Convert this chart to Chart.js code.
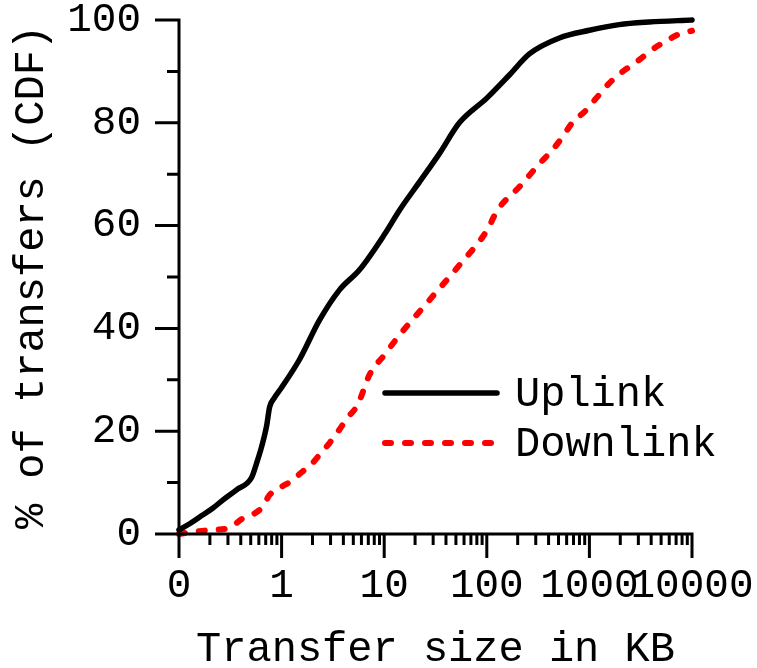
<!DOCTYPE html>
<html><head><meta charset="utf-8">
<script src="https://cdn.jsdelivr.net/npm/chart.js@4/dist/chart.umd.min.js"></script>
<style>html,body{margin:0;padding:0;background:#fff;}#wrap{width:757px;height:668px;}</style>
</head><body><div id="wrap"><canvas id="c" width="757" height="668"></canvas></div>
<script>
// ---- data ----
const seriesNames = ['Uplink', 'Downlink'];
const uplinkX = [0.1, 0.127, 0.159, 0.213, 0.267, 0.364, 0.51, 0.571, 0.639, 0.714, 0.764, 0.85, 1.0, 1.5, 2.34, 3.67, 5.75, 10, 14.1, 22.1, 34.5, 54, 100, 166, 260, 509, 1000, 1950, 3820, 10000];
const uplinkY = [0.8, 2, 3.3, 5, 6.6, 8.6, 11, 13.8, 17, 21, 24.7, 26.5, 28.5, 34, 41.6, 47.5, 51.4, 58.2, 63, 68.5, 74, 80, 84.8, 89.3, 93.4, 96.5, 98, 99.1, 99.6, 100];
const downlinkX = [0.1, 0.136, 0.213, 0.312, 0.408, 0.546, 0.653, 0.764, 1.02, 1.2, 1.57, 2.0, 2.34, 2.93, 3.51, 4.39, 5.5, 7.2, 10, 14.1, 27.6, 54, 100, 127, 207, 325, 435, 545, 681, 933, 1167, 1563, 2090, 2862, 3830, 5130, 8030, 10000];
const downlinkY = [0, 0.4, 0.8, 1.2, 2.9, 4, 5.3, 7.6, 9.3, 10.1, 12, 13.8, 15.4, 17.7, 19.8, 22.6, 25.1, 31, 34.8, 38.7, 45.5, 52.3, 59, 63, 67.5, 72, 74.7, 77.2, 80, 82.5, 84.8, 87.7, 89.9, 91.8, 93.8, 95.5, 97.5, 97.9];
const xMajorTicks = [0.1, 1, 10, 100, 1000, 10000];
const xTickLabels = ['0', '1', '10', '100', '1000', '10000'];
const yMajorTicks = [0, 20, 40, 60, 80, 100];
const yMinorTicks = [10, 30, 50, 70, 90];
const xTitle = 'Transfer size in KB';
const yTitle = '% of transfers (CDF)';

const FONT = "'Liberation Mono', 'Courier New', monospace";

function toPoints(xs, ys) { return xs.map((x, i) => ({ x: x, y: ys[i] })); }
function xMinorTicks() {
  const out = [];
  for (let d = 0; d < xMajorTicks.length - 1; d++) {
    for (let k = 2; k <= 9; k++) out.push(k * xMajorTicks[d]);
  }
  return out;
}

const axisPlugin = {
  id: 'axisPlugin',
  afterDraw(chart) {
    const ctx = chart.ctx, xs = chart.scales.x, ys = chart.scales.y;
    const L = chart.chartArea.left, B = chart.chartArea.bottom, T = chart.chartArea.top, R = chart.chartArea.right;
    ctx.save();
    ctx.strokeStyle = '#000';
    ctx.lineWidth = 3;
    ctx.lineCap = 'butt';
    ctx.beginPath();
    ctx.moveTo(L, T - 1.5); ctx.lineTo(L, B + 24);
    ctx.moveTo(L - 24, B); ctx.lineTo(R + 1.5, B);
    yMajorTicks.forEach(v => { const p = ys.getPixelForValue(v); ctx.moveTo(L - 24, p); ctx.lineTo(L, p); });
    yMinorTicks.forEach(v => { const p = ys.getPixelForValue(v); ctx.moveTo(L - 12, p); ctx.lineTo(L, p); });
    xMajorTicks.forEach(v => { const p = xs.getPixelForValue(v); ctx.moveTo(p, B); ctx.lineTo(p, B + 24); });
    xMinorTicks().forEach(v => { const p = xs.getPixelForValue(v); ctx.moveTo(p, B); ctx.lineTo(p, B + 11); });
    ctx.stroke();

    const rows = [{ y: 393 }, { y: 443 }];
    chart.data.datasets.forEach((ds, i) => {
      const y = rows[i].y;
      ctx.save();
      ctx.strokeStyle = ds.borderColor;
      ctx.lineWidth = ds.borderWidth;
      ctx.lineCap = ds.borderCapStyle || 'butt';
      ctx.setLineDash(ds.borderDash || []);
      ctx.beginPath();
      ctx.moveTo(385, y);
      ctx.lineTo(i === 0 ? 497 : 492, y);
      ctx.stroke();
      ctx.restore();
      ctx.fillStyle = '#000';
      ctx.font = '42px ' + FONT;
      ctx.textAlign = 'left';
      ctx.textBaseline = 'middle';
      ctx.fillText(ds.label, 515, y + 2);
    });
    ctx.restore();
  }
};

new Chart(document.getElementById('c'), {
  type: 'line',
  data: {
    datasets: [
      { label: seriesNames[0], data: toPoints(uplinkX, uplinkY), borderColor: '#000000', borderWidth: 5.5,
        borderCapStyle: 'round', borderJoinStyle: 'round', pointRadius: 0, cubicInterpolationMode: 'monotone', fill: false, clip: false },
      { label: seriesNames[1], data: toPoints(downlinkX, downlinkY), borderColor: '#ff0000', borderWidth: 6,
        borderDash: [6, 14], borderCapStyle: 'round', borderJoinStyle: 'round', pointRadius: 0, cubicInterpolationMode: 'monotone', fill: false, clip: false }
    ]
  },
  options: {
    responsive: false,
    animation: false,
    layout: { padding: { left: 0, top: 20, right: 65, bottom: 0 } },
    plugins: { legend: { display: false }, tooltip: { enabled: false } },
    scales: {
      x: {
        type: 'logarithmic', min: 0.1, max: 10000,
        border: { display: false },
        grid: { display: false, drawTicks: true, tickLength: 24 },
        afterBuildTicks: s => { s.ticks = xMajorTicks.map(v => ({ value: v })); },
        afterFit: s => { s.height = 134; s.paddingLeft = 0; s.paddingRight = 0; },
        ticks: {
          autoSkip: false, maxRotation: 0, minRotation: 0, padding: 4, color: '#000',
          font: { family: FONT, size: 41, lineHeight: 1.2 },
          callback: (v) => { const i = xMajorTicks.indexOf(v); return i >= 0 ? xTickLabels[i] : ''; }
        },
        title: { display: true, text: xTitle, color: '#000', font: { family: FONT, size: 42, lineHeight: 1 }, padding: { top: 0, bottom: -3 } }
      },
      y: {
        type: 'linear', min: 0, max: 100,
        border: { display: false },
        grid: { display: false, drawTicks: true, tickLength: 24 },
        afterBuildTicks: s => { s.ticks = yMajorTicks.map(v => ({ value: v })); },
        afterFit: s => { s.width = 179; s.paddingTop = 0; s.paddingBottom = 0; },
        ticks: { padding: 14, color: '#000', font: { family: FONT, size: 41, lineHeight: 1.2 } },
        title: { display: true, text: yTitle, color: '#000', font: { family: FONT, size: 42, lineHeight: 1 }, padding: { top: 11, bottom: 0 } }
      }
    }
  },
  plugins: [axisPlugin]
});
</script>
</body></html>
